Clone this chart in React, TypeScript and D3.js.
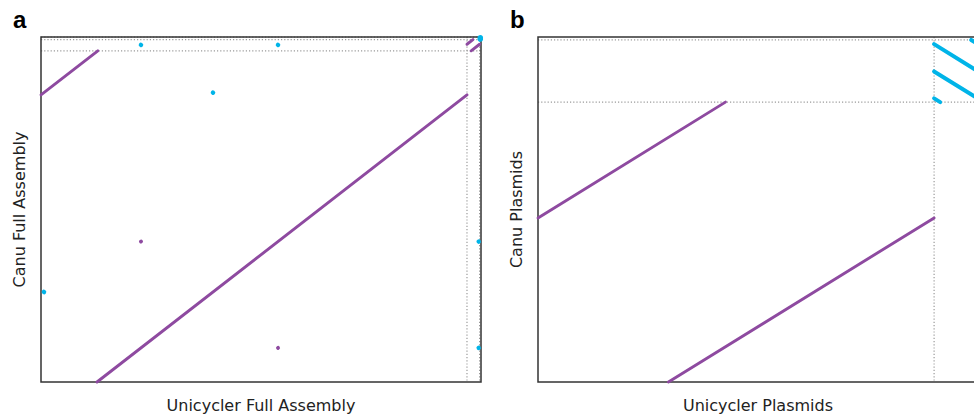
import React from "react";
import * as d3 from "d3";

// Contig lengths (kb)
const unicyclerFull = [
  { name: "chr", len: 5300 },
  { name: "p1", len: 157 },
  { name: "p2", len: 17.4 },
];
const canuFull = [
  { name: "tig1", len: 5310 },
  { name: "tig2", len: 179.6 },
  { name: "tig3", len: 39.9 },
  { name: "tig4", len: 1.9 },
];
const unicyclerPlasmids = ["p1", "p2"];
const canuPlasmids = ["tig2", "tig3", "tig4"];

// Alignments: [uContig, uStart, uEnd, cContig, cAtUStart, cAtUEnd]
const alignments: [string, number, number, string, number, number][] = [
  ["chr", 697, 5300, "tig1", 0, 4603],
  ["chr", 0, 707, "tig1", 4603, 5310],
  ["p1", 51.7, 157, "tig2", 0, 105.3],
  ["p1", 0, 74.3, "tig2", 105.3, 179.6],
  ["p2", 0, 17.4, "tig3", 37.2, 19.8],
  ["p2", 0, 17.4, "tig3", 19.7, 2.3],
  ["p2", 0, 2.4, "tig3", 2.4, 0],
  ["p2", 14.7, 17.4, "tig3", 39.9, 37.2],
];

// Short repeat hits (kb), drawn as dots
const repeatHits: [string, number, number, string, number, number][] = [
  ["chr", 1243, 1245, "tig1", 2251, 2253],
  ["chr", 2948, 2950, "tig1", 546, 548],
  ["chr", 1243, 1245, "tig2", 95, 93],
  ["chr", 2948, 2950, "tig2", 95, 93],
  ["p1", 145.5, 146.5, "tig1", 548, 546],
  ["p1", 145.5, 146.5, "tig1", 2253, 2251],
  ["chr", 36, 38, "tig1", 1444, 1442],
  ["chr", 2139, 2141, "tig1", 4641, 4639],
];

const PURPLE = "#8e4aa0";
const CYAN = "#00b4e8";

function offsets(contigs: { name: string; len: number }[]) {
  const o: Record<string, number> = {};
  let acc = 0;
  contigs.forEach((c) => {
    o[c.name] = acc;
    acc += c.len;
  });
  return { o, total: acc };
}

function Panel({
  x0, x1, y0, y1, uContigs, cContigs, label, xLabel, yLabel, yLabelX,
}: any) {
  const U = offsets(uContigs);
  const C = offsets(cContigs);
  const x = d3.scaleLinear().domain([0, U.total]).range([x0, x1]);
  const y = d3.scaleLinear().domain([0, C.total]).range([y1, y0]);
  const uBounds = uContigs.slice(1).map((c: any) => U.o[c.name]);
  const cBounds = cContigs.slice(1).map((c: any) => C.o[c.name]);
  const segs = alignments.filter((a) => a[0] in U.o && a[3] in C.o);
  const hits = repeatHits.filter((a) => a[0] in U.o && a[3] in C.o);
  return (
    <g>
      <text x={x0 - 28} y={28} fontFamily="Liberation Sans, Arial, sans-serif" fontWeight="bold" fontSize={24}>{label}</text>
      {uBounds.map((b: number, i: number) => (
        <line key={"u" + i} x1={x(b)} x2={x(b)} y1={y0} y2={y1} stroke="#9a9a9a" strokeWidth={1.2} strokeDasharray="1.2,2" />
      ))}
      {cBounds.map((b: number, i: number) => (
        <line key={"c" + i} x1={x0} x2={x1} y1={y(b)} y2={y(b)} stroke="#9a9a9a" strokeWidth={1.2} strokeDasharray="1.2,2" />
      ))}
      <rect x={x0} y={y0} width={x1 - x0} height={y1 - y0} fill="none" stroke="#333" strokeWidth={1.5} />
      {segs.map((a, i) => {
        const fwd = (a[5] - a[4]) >= 0;
        return (
          <line key={i}
            x1={x(U.o[a[0]] + a[1])} x2={x(U.o[a[0]] + a[2])}
            y1={y(C.o[a[3]] + a[4])} y2={y(C.o[a[3]] + a[5])}
            stroke={fwd ? PURPLE : CYAN} strokeWidth={fwd ? 2.9 : 4} strokeLinecap="round" />
        );
      })}
      {hits.map((a, i) => {
        const fwd = (a[5] - a[4]) >= 0;
        return (
          <line key={"h" + i}
            x1={x(U.o[a[0]] + a[1])} x2={x(U.o[a[0]] + a[2])}
            y1={y(C.o[a[3]] + a[4])} y2={y(C.o[a[3]] + a[5])}
            stroke={fwd ? PURPLE : CYAN} strokeWidth={fwd ? 3.8 : 4.4} strokeLinecap="round" />
        );
      })}
      <text x={(x0 + x1) / 2} y={411} textAnchor="middle" fontFamily="DejaVu Sans, sans-serif" fontSize={16} fill="#222">{xLabel}</text>
      <text transform={`translate(${yLabelX},${(y0 + y1) / 2}) rotate(-90)`} textAnchor="middle" fontFamily="DejaVu Sans, sans-serif" fontSize={16} fill="#222">{yLabel}</text>
    </g>
  );
}

export default function App() {
  const uPl = unicyclerFull.filter((c) => unicyclerPlasmids.includes(c.name));
  const cPl = canuFull.filter((c) => canuPlasmids.includes(c.name));
  return (
    <svg width={974} height={416} style={{ position: "absolute", left: 0, top: 0, background: "#fff" }}>
      <Panel x0={41} x1={481} y0={37} y1={382} uContigs={unicyclerFull} cContigs={canuFull}
        label="a" xLabel="Unicycler Full Assembly" yLabel="Canu Full Assembly" yLabelX={25} />
      <Panel x0={538} x1={978} y0={37} y1={382} uContigs={uPl} cContigs={cPl}
        label="b" xLabel="Unicycler Plasmids" yLabel="Canu Plasmids" yLabelX={522} />
    </svg>
  );
}
